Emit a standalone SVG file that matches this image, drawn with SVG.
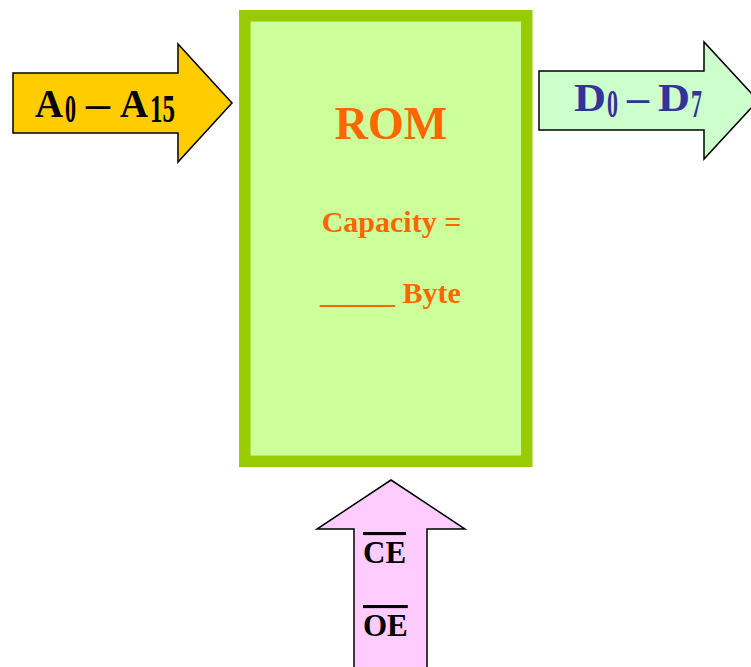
<svg xmlns="http://www.w3.org/2000/svg" width="751" height="667" viewBox="0 0 751 667">
<style>
text{font-family:"Liberation Serif","Times New Roman",serif;font-weight:bold}
.arrow{stroke:#000;stroke-width:1.5;stroke-linejoin:miter}
.rom{fill:#FF6600;text-anchor:middle}
.lbl{font-size:40px}
.blue{fill:#333399}
</style>
<rect width="751" height="667" fill="#fff"/>
<g id="rom">
<rect x="244.8" y="15.8" width="282" height="445.5" fill="#CCFF99" stroke="#99CC00" stroke-width="11.5"/>
<text class="rom" x="391" y="139" font-size="46">ROM</text>
<text class="rom" x="391.5" y="232" font-size="30">Capacity =</text>
<text class="rom" x="390.5" y="303" font-size="30">_____ Byte</text>
</g>
<g id="connectors">
<g id="addr">
<polygon class="arrow" fill="#FFCC00" points="13,73 178,73 178,44 232,103 178,162 178,133 13,133"/>
<text class="lbl" x="35" y="117" textLength="28" lengthAdjust="spacingAndGlyphs">A</text>
<text class="lbl" x="65" y="122" textLength="11" lengthAdjust="spacingAndGlyphs">0</text>
<text class="lbl" x="86" y="117" textLength="24" lengthAdjust="spacingAndGlyphs">–</text>
<text class="lbl" x="120" y="117" textLength="28" lengthAdjust="spacingAndGlyphs">A</text>
<text class="lbl" x="150" y="122" textLength="25" lengthAdjust="spacingAndGlyphs">15</text>
</g>
<g id="data">
<polygon class="arrow" fill="#CCFFCC" points="539,71 704,71 704,42 758,100.5 704,159 704,130 539,130"/>
<text class="lbl blue" x="574" y="111" textLength="32" lengthAdjust="spacingAndGlyphs">D</text>
<text class="lbl blue" x="607" y="117" textLength="11" lengthAdjust="spacingAndGlyphs">0</text>
<text class="lbl blue" x="627" y="111" textLength="22" lengthAdjust="spacingAndGlyphs">–</text>
<text class="lbl blue" x="658" y="111" textLength="32" lengthAdjust="spacingAndGlyphs">D</text>
<text class="lbl blue" x="691" y="117" textLength="11" lengthAdjust="spacingAndGlyphs">7</text>
</g>
<g id="ctrl">
<polygon class="arrow" fill="#FFCCFF" points="354,680 354,529 317,529 391,480 465,529 427,529 427,680"/>
<text x="363" y="563" font-size="31" text-decoration="overline">CE</text>
<text x="363" y="636" font-size="31" text-decoration="overline">OE</text>
</g>
</g>
</svg>
